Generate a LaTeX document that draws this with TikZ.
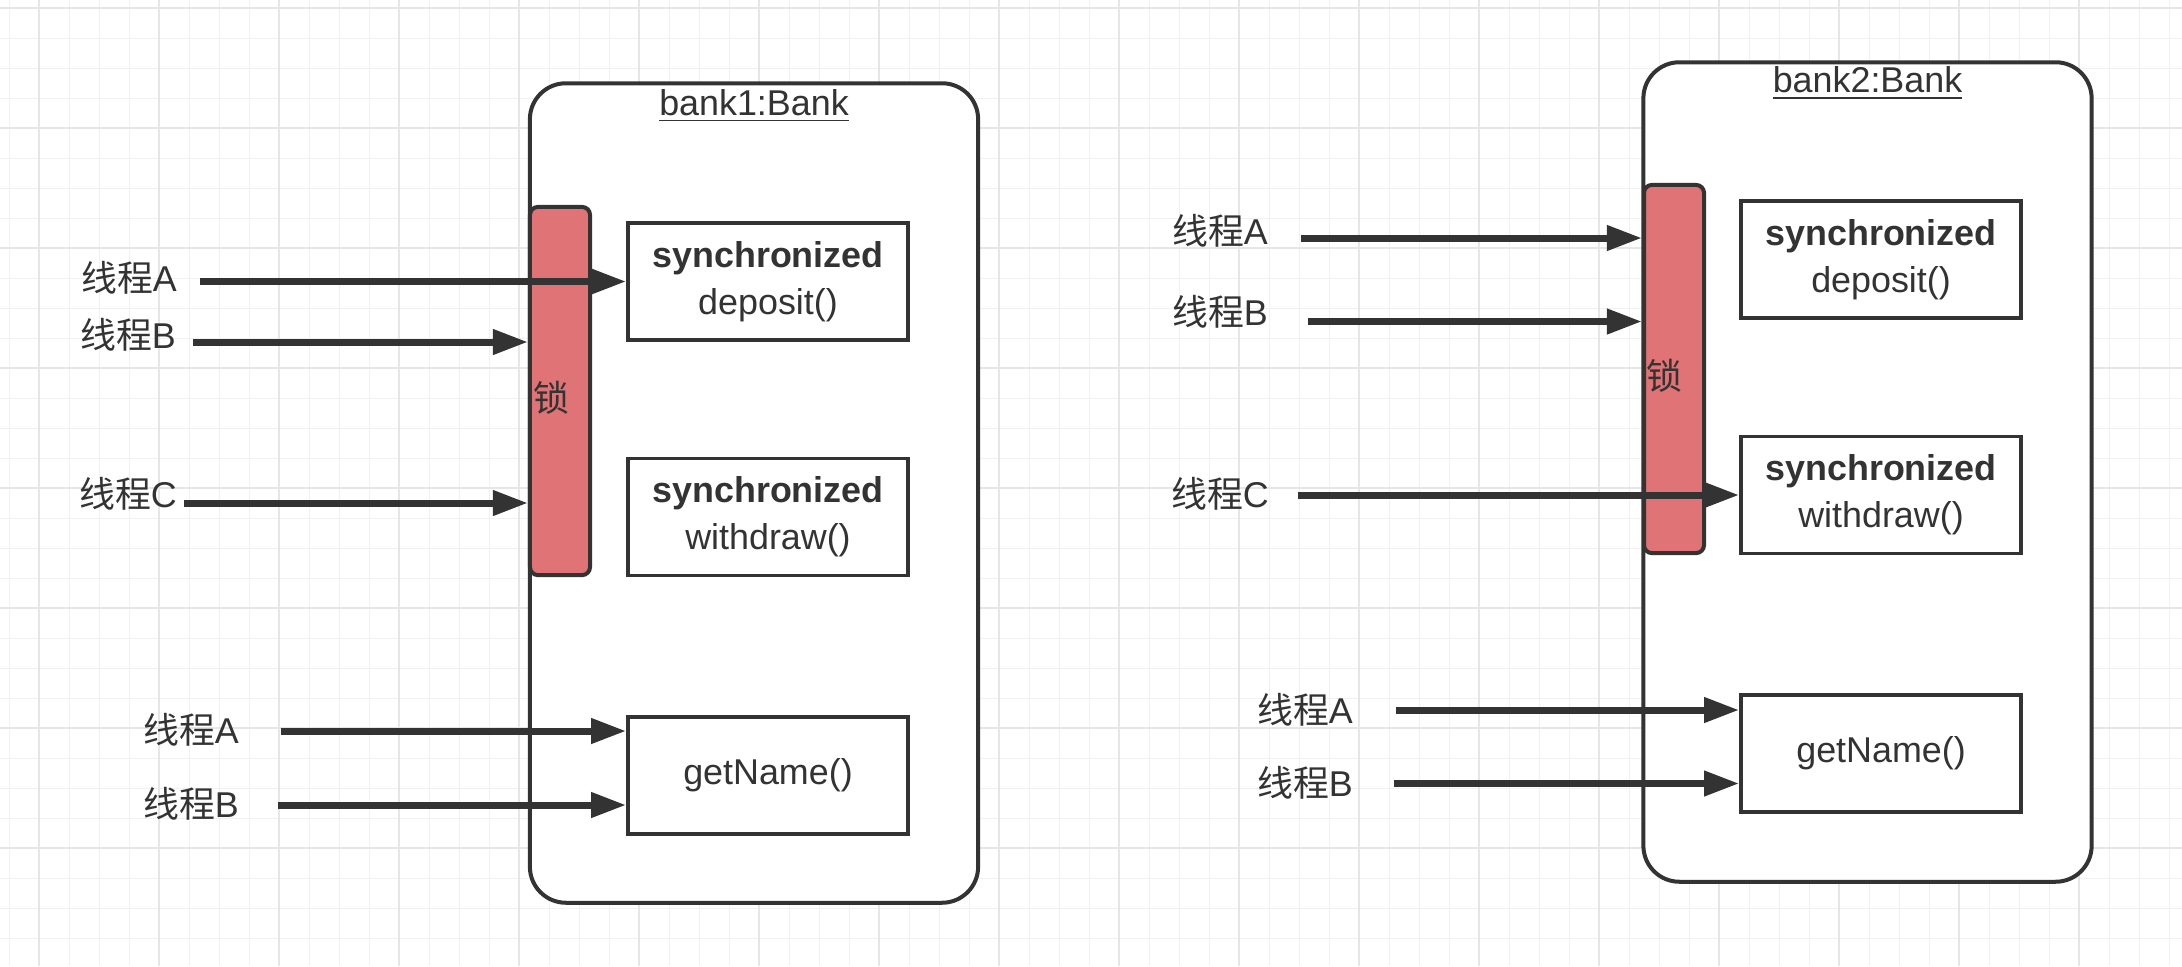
\documentclass[tikz,border=0pt]{standalone}
\usepackage{fontspec}
\setmainfont{Liberation Sans}
\newfontfamily\cjk{Noto Sans CJK SC}
\usetikzlibrary{arrows.meta}
\definecolor{ink}{HTML}{333333}
\definecolor{lockred}{HTML}{E07375}
\definecolor{gridminor}{HTML}{F1F1F1}
\definecolor{gridmajor}{HTML}{E6E6E6}
\tikzset{
  bank/.style={
    rectangle,
    draw=ink,
    line width=0.04cm,
    fill=white,
    rounded corners=0.36cm,
    minimum width=4.48cm,
    minimum height=8.19cm
  }
}
\tikzset{
  lockbar/.style={
    rectangle,
    draw=ink,
    line width=0.04cm,
    fill=lockred,
    rounded corners=0.08cm,
    minimum width=0.6cm,
    minimum height=3.68cm
  }
}
\tikzset{
  method/.style={
    rectangle,
    draw=ink,
    line width=0.035cm,
    fill=white,
    align=center,
    minimum width=2.8cm,
    minimum height=1.17cm,
    execute at begin node=\setlength{\baselineskip}{13.4pt}
  }
}
\tikzstyle{arrow} = [-{Triangle[length=0.35cm, width=0.24cm]}, draw=ink, line width=0.07cm]
\def\thr#1{{\cjk 线程}#1}

\begin{document}
\begin{tikzpicture}[x=0.01cm, y=-0.01cm, every node/.style={font=\fontsize{10.2}{12}\selectfont, text=ink}]
    \useasboundingbox (0,0) rectangle (2182,966);
    \fill[white] (0,0) rectangle (2182,966);
    \foreach \gx in {0,...,72} \draw[gridminor, line width=0.01cm] (9.3+30*\gx,0) -- (9.3+30*\gx,966);
    \foreach \gy in {0,...,31} \draw[gridminor, line width=0.01cm] (0,8.3+30*\gy) -- (2182,8.3+30*\gy);
    \foreach \gx in {0,...,17} \draw[gridmajor, line width=0.02cm] (39.3+120*\gx,0) -- (39.3+120*\gx,966);
    \foreach \gy in {0,...,7} \draw[gridmajor, line width=0.02cm] (0,8.3+120*\gy) -- (2182,8.3+120*\gy);

    \node[bank] (bank1) at (754,493) {};
    \node (title1) at (754,106) {\underline{bank1:Bank}};
    \node[lockbar] (lock1) at (560,391) {};
    \node (lk1) at (551,398) {\cjk 锁};
    \node[method] (dep1) at (768,281.5) {\textbf{synchronized}\\deposit()};
    \node[method] (wd1) at (768,517) {\textbf{synchronized}\\withdraw()};
    \node[method] (gn1) at (768,775.5) {getName()};
    \node (tA1) at (129,278) {\thr{A}};
    \node (tB1) at (128,335) {\thr{B}};
    \node (tC1) at (128,494) {\thr{C}};
    \node (tA1b) at (191,730) {\thr{A}};
    \node (tB1b) at (191,804) {\thr{B}};
    \coordinate (sA1) at (200,281.5);
    \coordinate (sB1) at (193,342);
    \coordinate (sC1) at (184,503);
    \coordinate (sA1b) at (281,731);
    \coordinate (sB1b) at (278,805);
    \draw[arrow] (sA1) to (sA1 -| dep1.west);
    \draw[arrow] (sB1) to (sB1 -| lock1.west);
    \draw[arrow] (sC1) to (sC1 -| lock1.west);
    \draw[arrow] (sA1b) to (sA1b -| gn1.west);
    \draw[arrow] (sB1b) to (sB1b -| gn1.west);

    \node[bank] (bank2) at (1867.5,472) {};
    \node (title2) at (1867.5,83.5) {\underline{bank2:Bank}};
    \node[lockbar] (lock2) at (1674,369) {};
    \node (lk2) at (1664,376) {\cjk 锁};
    \node[method] (dep2) at (1881,259.5) {\textbf{synchronized}\\deposit()};
    \node[method] (wd2) at (1881,495) {\textbf{synchronized}\\withdraw()};
    \node[method] (gn2) at (1881,753.5) {getName()};
    \node (tA2) at (1220,231) {\thr{A}};
    \node (tB2) at (1220,312) {\thr{B}};
    \node (tC2) at (1220,494) {\thr{C}};
    \node (tA2b) at (1305,710) {\thr{A}};
    \node (tB2b) at (1305,783) {\thr{B}};
    \coordinate (sA2) at (1301,238);
    \coordinate (sB2) at (1308,321.5);
    \coordinate (sC2) at (1298,495);
    \coordinate (sA2b) at (1396,710);
    \coordinate (sB2b) at (1394,783.5);
    \draw[arrow] (sA2) to (sA2 -| lock2.west);
    \draw[arrow] (sB2) to (sB2 -| lock2.west);
    \draw[arrow] (sC2) to (sC2 -| wd2.west);
    \draw[arrow] (sA2b) to (sA2b -| gn2.west);
    \draw[arrow] (sB2b) to (sB2b -| gn2.west);
\end{tikzpicture}
\end{document}
